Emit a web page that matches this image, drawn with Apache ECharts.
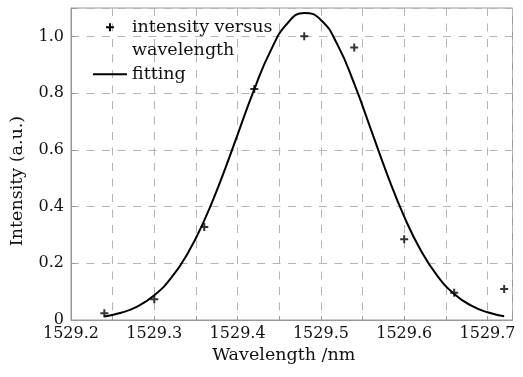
<!DOCTYPE html>
<html>
<head>
<meta charset="utf-8">
<script src="https://cdn.jsdelivr.net/npm/echarts@6/dist/echarts.min.js"></script>
<style>
  html, body { margin: 0; padding: 0; background: #fff; }
  #chart { width: 523px; height: 377px; }
</style>
</head>
<body>
<div id="chart"></div>
<script>
// Measured intensity at each wavelength (nm)
const waveX = [1529.24, 1529.30, 1529.36, 1529.42, 1529.48, 1529.54, 1529.60, 1529.66, 1529.72];
const intensity = [0.024, 0.073, 0.328, 0.814, 1.0, 0.961, 0.285, 0.096, 0.109];

// Fitted curve samples
const fitX = [1529.24, 1529.26, 1529.28, 1529.30, 1529.32, 1529.34, 1529.36, 1529.38, 1529.40,
              1529.42, 1529.44, 1529.46, 1529.48, 1529.50, 1529.52, 1529.54, 1529.56, 1529.58,
              1529.60, 1529.62, 1529.64, 1529.66, 1529.68, 1529.70, 1529.72];
const fitY = [0.0124, 0.0253, 0.0484, 0.0871, 0.1474, 0.2347, 0.3512, 0.4942, 0.6538,
              0.8134, 0.9516, 1.0469, 1.0825, 1.0580, 0.9700, 0.8330, 0.6720, 0.5100,
              0.3644, 0.2451, 0.1549, 0.0921, 0.0515, 0.0271, 0.0134];

// Axis ranges and tick steps
const xRange = [1529.2, 1529.73];
const xStep = 0.05;
const yRange = [0, 1.1];
const yStep = 0.2;

const scatterName = 'intensity versus wavelength';
const fitName = 'fitting';
// Legend text: the marker sits beside the first line, the leading blank line keeps it there
const scatterLegendText = ' \nintensity versus\nwavelength';

const plusPath = 'path://M3,0H5V3H8V5H5V8H3V5H0V3H3Z';
const font = 'DejaVu Serif';
const gridColor = '#b4b4b4';

const chart = echarts.init(document.getElementById('chart'), null, { renderer: 'canvas' });

chart.setOption({
  animation: false,
  backgroundColor: '#fff',
  textStyle: { fontFamily: font, color: '#111' },
  grid: {
    left: 71, right: 10.5, top: 8, bottom: 57,
    show: true, borderColor: '#999', borderWidth: 1
  },
  legend: {
    orient: 'vertical',
    left: 92,
    top: -8,
    padding: 0,
    itemGap: 0,
    itemWidth: 34,
    itemHeight: 8,
    textStyle: { fontFamily: font, fontSize: 17.5, color: '#111', lineHeight: 23.5 },
    formatter: function (name) {
      return name === scatterName ? scatterLegendText : name;
    },
    data: [
      { name: scatterName, icon: plusPath, itemStyle: { color: '#000', opacity: 1 } },
      { name: fitName, itemStyle: { opacity: 0 }, lineStyle: { color: '#000', width: 2, opacity: 1 } }
    ]
  },
  xAxis: {
    type: 'value',
    min: xRange[0],
    max: xRange[1],
    interval: xStep,
    name: 'Wavelength /nm',
    nameLocation: 'middle',
    nameGap: 25,
    nameTextStyle: { fontFamily: font, fontSize: 17.5, color: '#111', padding: [0, 16, 0, 0] },
    axisLine: { show: true, lineStyle: { color: '#999', width: 1 } },
    axisTick: { show: true, inside: true, length: 4, lineStyle: { color: '#999' } },
    axisLabel: {
      fontFamily: font, fontSize: 16, color: '#111', margin: 6,
      formatter: function (v) {
        const t = v * 10;
        if (Math.abs(t - Math.round(t)) < 1e-6 && v <= 1529.7 + 1e-9) return v.toFixed(1);
        return '';
      }
    },
    splitLine: { show: true, lineStyle: { color: gridColor, type: [8, 7.5], width: 1 } }
  },
  yAxis: {
    type: 'value',
    min: yRange[0],
    max: yRange[1],
    interval: yStep,
    name: 'Intensity (a.u.)',
    nameLocation: 'middle',
    nameGap: 45,
    nameTextStyle: { fontFamily: font, fontSize: 17.5, color: '#111', padding: [0, 34, 0, 0] },
    axisLine: { show: true, lineStyle: { color: '#999', width: 1 } },
    axisTick: { show: true, inside: true, length: 5, lineStyle: { color: '#999' } },
    axisLabel: {
      fontFamily: font, fontSize: 16, color: '#111', margin: 7,
      formatter: function (v) {
        if (v > 1.05) return '';
        return v === 0 ? '0' : v.toFixed(1);
      }
    },
    splitLine: { show: true, lineStyle: { color: gridColor, type: [8, 7.5], width: 1 } }
  },
  series: [
    {
      name: scatterName,
      type: 'scatter',
      symbol: plusPath,
      symbolSize: 8,
      symbolKeepAspect: true,
      itemStyle: { color: '#000' },
      z: 3,
      data: waveX.map((x, i) => [x, intensity[i]])
    },
    {
      name: fitName,
      type: 'line',
      symbol: 'none',
      smooth: 0.5,
      lineStyle: { color: '#000', width: 2 },
      itemStyle: { color: '#000' },
      z: 2,
      data: fitX.map((x, i) => [x, fitY[i]])
    }
  ]
});
</script>
</body>
</html>
